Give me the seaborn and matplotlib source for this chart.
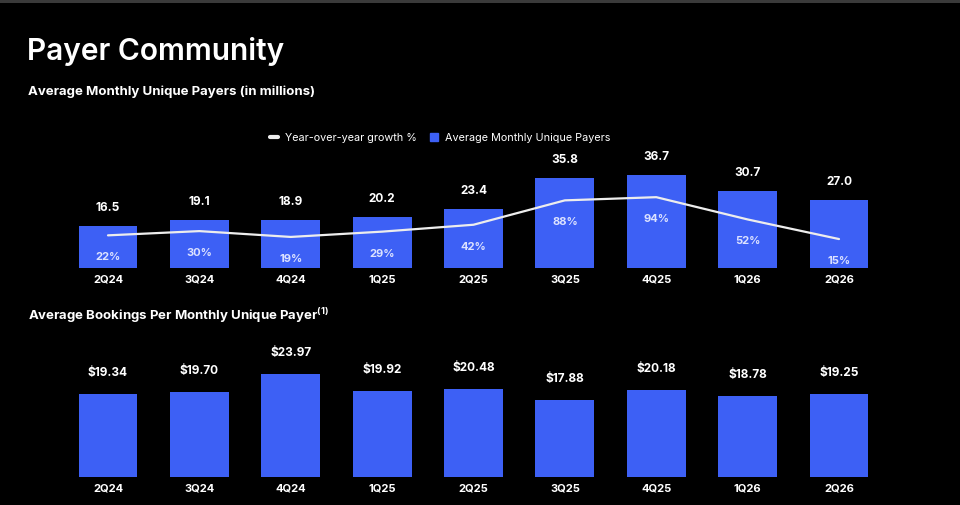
import numpy as np
import pandas as pd
import matplotlib
matplotlib.use("Agg")
import matplotlib.pyplot as plt
import seaborn as sns
from matplotlib.patches import Rectangle
from matplotlib.lines import Line2D
from matplotlib.patches import Patch

quarters = ["2Q24", "3Q24", "4Q24", "1Q25", "2Q25", "3Q25", "4Q25", "1Q26", "2Q26"]
payers = [16.5, 19.1, 18.9, 20.2, 23.4, 35.8, 36.7, 30.7, 27.0]
yoy_growth = [22, 30, 19, 29, 42, 88, 94, 52, 15]
bookings = [19.34, 19.70, 23.97, 19.92, 20.48, 17.88, 20.18, 18.78, 19.25]

BLUE = "#3D60F5"
BG = "#000000"

sns.set_theme(style="white")
plt.rcParams['font.family'] = ['Inter', 'DejaVu Sans']
plt.rcParams['mathtext.fontset'] = 'custom'
plt.rcParams['mathtext.rm'] = 'Inter'
plt.rcParams['mathtext.bf'] = 'Inter:bold'

df = pd.DataFrame({"quarter": quarters, "payers": payers,
                   "growth": yoy_growth, "bookings": bookings})

W, H = 960, 505
fig = plt.figure(figsize=(W / 100, H / 100), dpi=100, facecolor=BG)

def px_axes(left, right, top, bottom):
    return fig.add_axes([left / W, 1 - bottom / H, (right - left) / W, (bottom - top) / H])

def style_ax(ax):
    ax.set_facecolor("none")
    for s in ax.spines.values():
        s.set_visible(False)
    ax.set_yticks([])
    ax.set_xlabel("")
    ax.set_ylabel("")
    ax.tick_params(axis="x", length=0, pad=5, colors="white", labelsize=8)
    for t in ax.get_xticklabels():
        t.set_fontweight("bold")

# top chart: payers + growth line
ax1 = px_axes(62.3, 884.7, 150, 268)
sns.barplot(data=df, x="quarter", y="payers", color=BLUE, width=0.645,
            saturation=1, linewidth=0, ax=ax1)
ax1.set_xlim(-0.5, 8.5)
ax1.set_ylim(0, 46.8)
style_ax(ax1)
for i, v in enumerate(payers):
    ax1.annotate(f"{v:.1f}", (i, v), xytext=(0, 18), textcoords="offset pixels",
                 ha="center", va="center", color="white", fontsize=8.5, fontweight="bold")

ax1b = ax1.twinx()
sns.lineplot(data=df, x="quarter", y="growth", color="#EDEDED", linewidth=1.6, ax=ax1b)
ax1b.set_ylim(-39.6, 183)
style_ax(ax1b)
ax1b.set_xlim(-0.5, 8.5)
for i, g in enumerate(yoy_growth):
    ax1b.annotate(f"{g}%", (i, g), xytext=(0, -22), textcoords="offset pixels",
                  ha="center", va="center", color="#DCE2FF", fontsize=8, fontweight="bold")

# bottom chart: bookings per payer
ax2 = px_axes(62.3, 884.7, 350, 477)
sns.barplot(data=df, x="quarter", y="bookings", color=BLUE, width=0.645,
            saturation=1, linewidth=0, ax=ax2)
ax2.set_xlim(-0.5, 8.5)
ax2.set_ylim(0, 29.5)
style_ax(ax2)
for i, v in enumerate(bookings):
    ax2.annotate(f"${v:.2f}", (i, v), xytext=(0, 21), textcoords="offset pixels",
                 ha="center", va="center", color="white", fontsize=8.5, fontweight="bold")

# titles
fig.text(27 / W, 1 - 52 / H, "Payer Community", color="white", fontsize=21.5,
         fontweight="semibold", va="center", ha="left")
fig.text(28 / W, 1 - 92 / H, "Average Monthly Unique Payers (in millions)", color="white",
         fontsize=9.5, fontweight="bold", va="center", ha="left")
fig.text(28 / W, 1 - 316 / H, r"Average Bookings Per Monthly Unique Payer$^{\mathbf{(1)}}$",
         color="white", fontsize=9.5, fontweight="bold", va="center", ha="left")

# legend
handles = [Line2D([], [], color="#EDEDED", linewidth=3),
           Patch(facecolor=BLUE, edgecolor=BLUE)]
leg = fig.legend(handles, ["Year-over-year growth %", "Average Monthly Unique Payers"],
                 loc="center", bbox_to_anchor=(440 / W, 1 - 138 / H), ncol=2,
                 frameon=False, fontsize=7.8, handlelength=0.8, handleheight=0.8,
                 handletextpad=0.6, columnspacing=1.2, labelcolor="white")

# thin grey band at the top of the slide
fig.add_artist(Rectangle((0, 1 - 3 / H), 1, 3 / H, transform=fig.transFigure,
                         color="#3A3A3A", lw=0))

fig.savefig("out.png", dpi=100, facecolor=BG)
